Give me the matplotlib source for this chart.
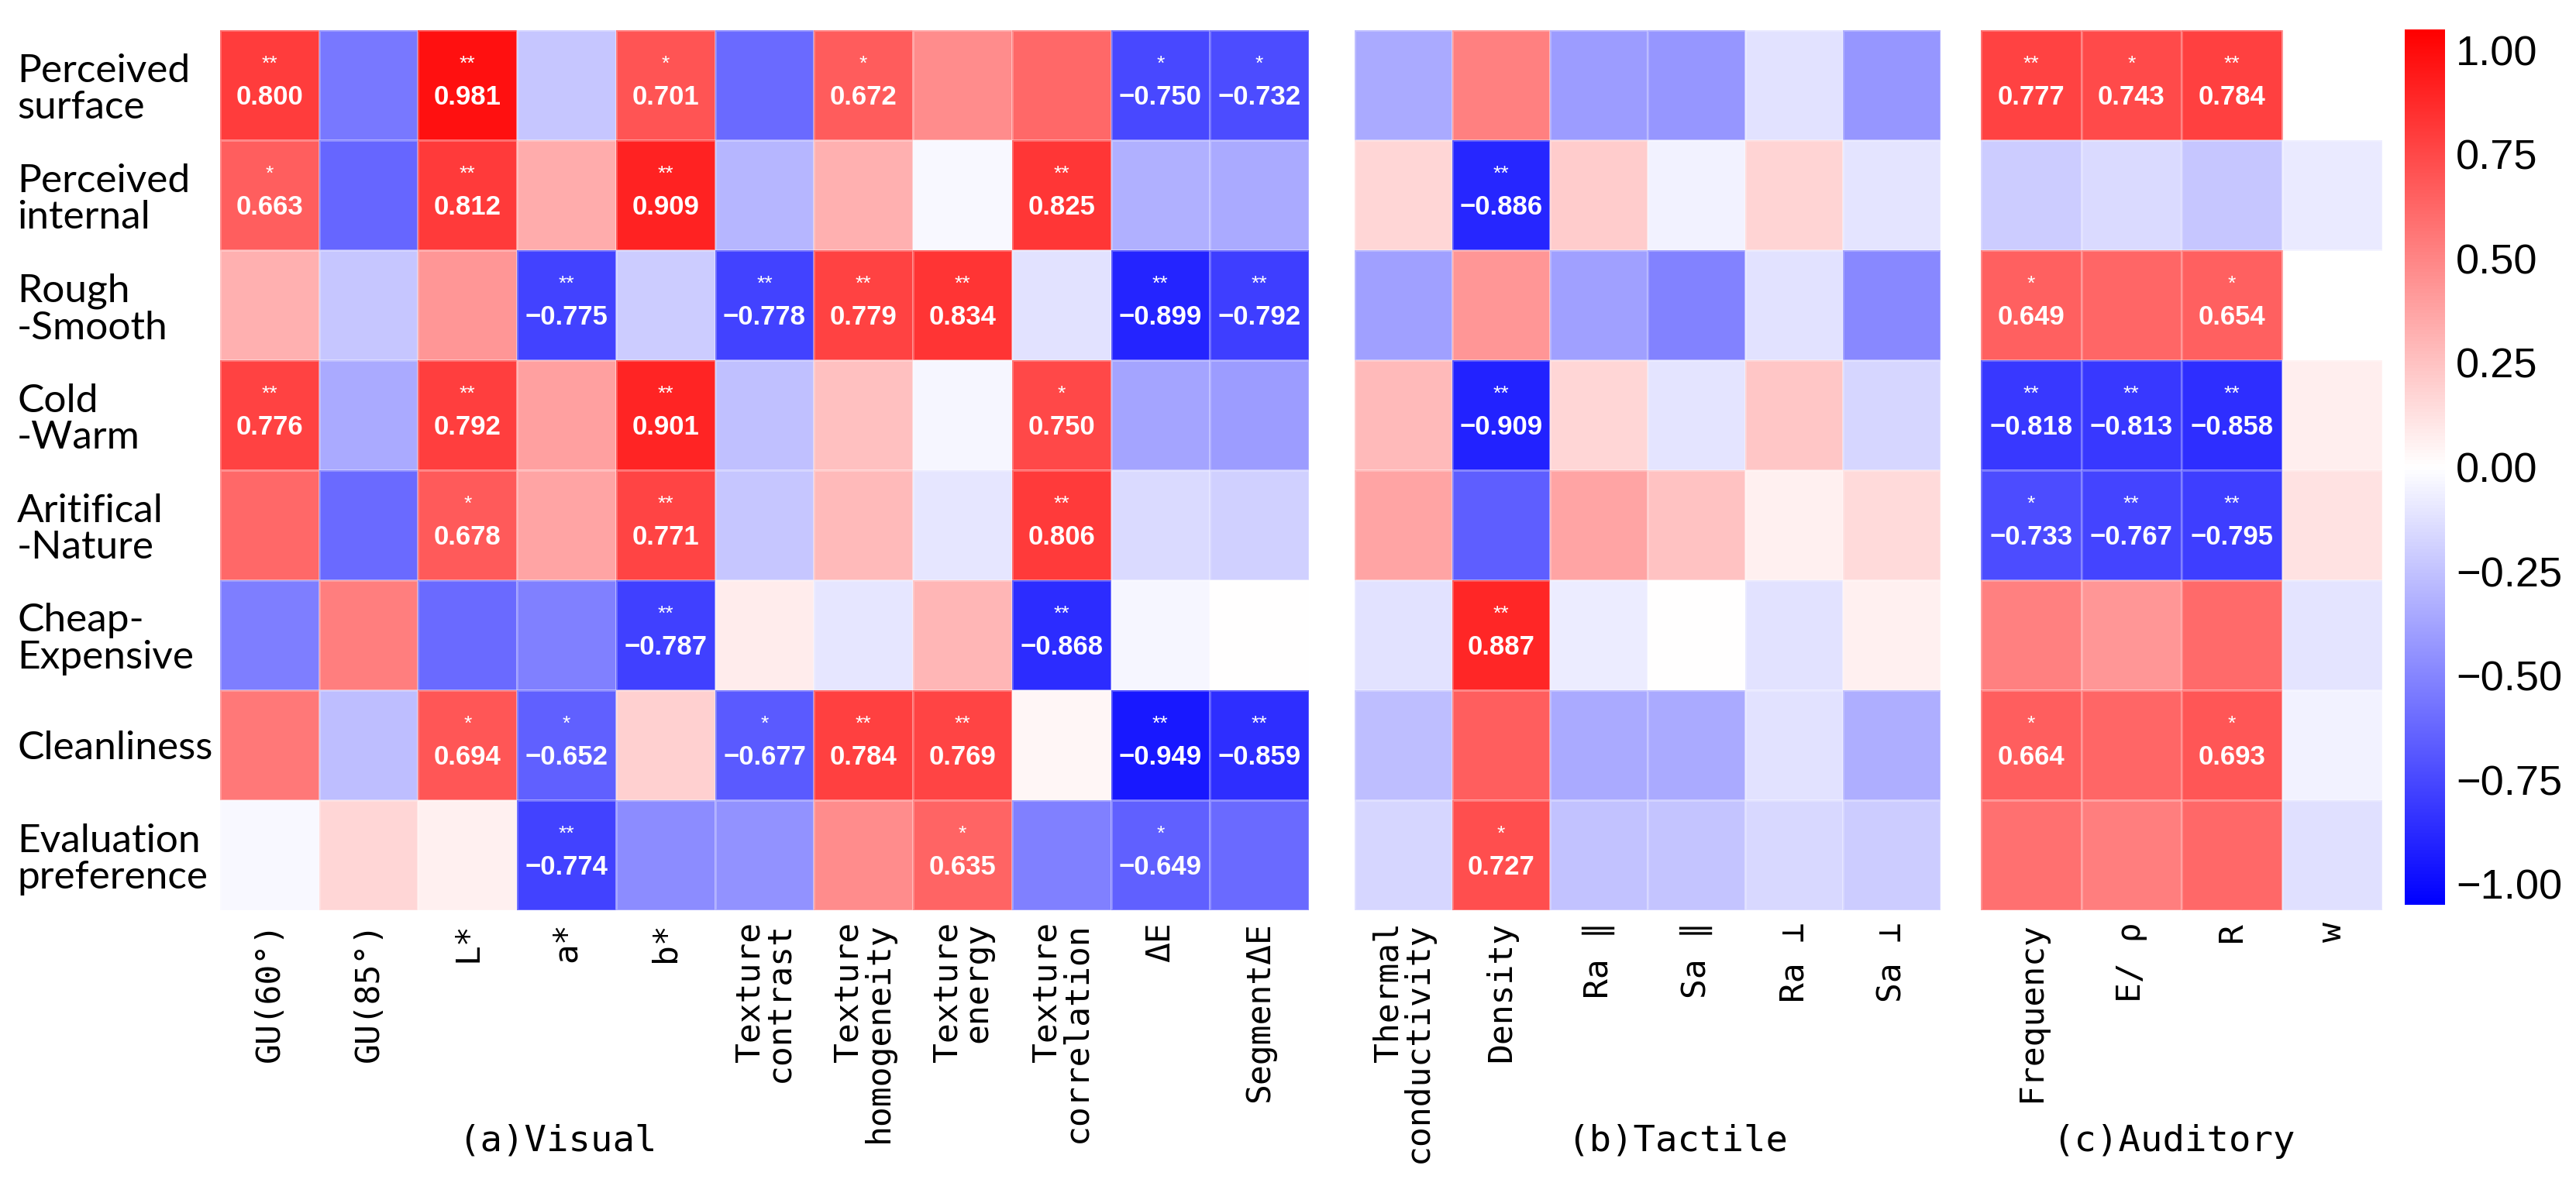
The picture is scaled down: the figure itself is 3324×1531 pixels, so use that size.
import matplotlib
matplotlib.use("Agg")
import matplotlib.pyplot as plt
import numpy as np
from matplotlib.colors import Normalize

# Row labels (perceptual attributes)
rows = ['Perceived\nsurface', 'Perceived\ninternal', 'Rough\n-Smooth', 'Cold\n-Warm',
        'Aritifical\n-Nature', 'Cheap-\nExpensive', 'Cleanliness', 'Evaluation\npreference']

# (a) Visual
visual_cols = ['GU(60°)', 'GU(85°)', 'L*', 'a*', 'b*', 'Texture\ncontrast', 'Texture\nhomogeneity',
               'Texture\nenergy', 'Texture\ncorrelation', 'ΔE', 'SegmentΔE']
visual_vals = [
    [0.800, -0.55, 0.981, -0.23, 0.701, -0.61, 0.672, 0.47, 0.62, -0.750, -0.732],
    [0.663, -0.63, 0.812, 0.34, 0.909, -0.30, 0.32, -0.03, 0.825, -0.32, -0.35],
    [0.32, -0.23, 0.43, -0.775, -0.21, -0.778, 0.779, 0.834, -0.12, -0.899, -0.792],
    [0.776, -0.35, 0.792, 0.39, 0.901, -0.26, 0.26, -0.04, 0.750, -0.37, -0.41],
    [0.62, -0.61, 0.678, 0.37, 0.771, -0.23, 0.28, -0.10, 0.806, -0.15, -0.19],
    [-0.53, 0.53, -0.61, -0.52, -0.787, 0.08, -0.10, 0.30, -0.868, -0.04, 0.00],
    [0.55, -0.27, 0.694, -0.652, 0.19, -0.677, 0.784, 0.769, 0.04, -0.949, -0.859],
    [-0.03, 0.17, 0.06, -0.774, -0.47, -0.45, 0.47, 0.635, -0.52, -0.649, -0.61],
]
visual_sig = [
    ['**', '', '**', '', '*', '', '*', '', '', '*', '*'],
    ['*', '', '**', '', '**', '', '', '', '**', '', ''],
    ['', '', '', '**', '', '**', '**', '**', '', '**', '**'],
    ['**', '', '**', '', '**', '', '', '', '*', '', ''],
    ['', '', '*', '', '**', '', '', '', '**', '', ''],
    ['', '', '', '', '**', '', '', '', '**', '', ''],
    ['', '', '*', '*', '', '*', '**', '**', '', '**', '**'],
    ['', '', '', '**', '', '', '', '*', '', '*', ''],
]

# (b) Tactile
tactile_cols = ['Thermal\nconductivity', 'Density', 'Ra ∥', 'Sa ∥', 'Ra ⊥', 'Sa ⊥']
tactile_vals = [
    [-0.35, 0.52, -0.41, -0.43, -0.12, -0.43],
    [0.17, -0.886, 0.21, -0.05, 0.18, -0.11],
    [-0.39, 0.43, -0.39, -0.51, -0.12, -0.49],
    [0.28, -0.909, 0.17, -0.11, 0.23, -0.17],
    [0.37, -0.66, 0.37, 0.25, 0.06, 0.15],
    [-0.12, 0.887, -0.08, 0.00, -0.12, 0.06],
    [-0.27, 0.66, -0.35, -0.35, -0.12, -0.33],
    [-0.17, 0.727, -0.25, -0.24, -0.16, -0.21],
]
tactile_sig = [
    ['', '', '', '', '', ''],
    ['', '**', '', '', '', ''],
    ['', '', '', '', '', ''],
    ['', '**', '', '', '', ''],
    ['', '', '', '', '', ''],
    ['', '**', '', '', '', ''],
    ['', '', '', '', '', ''],
    ['', '*', '', '', '', ''],
]

# (c) Auditory
auditory_cols = ['Frequency', 'E/ ρ', 'R', 'w']
auditory_vals = [
    [0.777, 0.743, 0.784, np.nan],
    [-0.21, -0.15, -0.23, -0.09],
    [0.649, 0.63, 0.654, np.nan],
    [-0.818, -0.813, -0.858, 0.07],
    [-0.733, -0.767, -0.795, 0.12],
    [0.52, 0.43, 0.61, -0.11],
    [0.664, 0.63, 0.693, -0.05],
    [0.59, 0.53, 0.62, -0.13],
]
auditory_sig = [
    ['**', '*', '**', ''],
    ['', '', '', ''],
    ['*', '', '*', ''],
    ['**', '**', '**', ''],
    ['*', '**', '**', ''],
    ['', '', '', ''],
    ['*', '', '*', ''],
    ['', '', '', ''],
]

cbar_ticks = [1.0, 0.75, 0.5, 0.25, 0.0, -0.25, -0.5, -0.75, -1.0]

MONO = ['DejaVu Sans Mono', 'DejaVu Sans']
norm = Normalize(vmin=-1.05, vmax=1.05)

W, H = 3324, 1531
fig = plt.figure(figsize=(W / 100, H / 100), dpi=100)

top, bottom = 39, 1175
ax_b = 1 - bottom / H
ax_h = (bottom - top) / H


def panel(x0, x1, vals, sig, cols):
    ax = fig.add_axes([x0 / W, ax_b, (x1 - x0) / W, ax_h])
    data = np.ma.masked_invalid(np.array(vals, dtype=float))
    mesh = ax.pcolormesh(data, cmap='bwr', norm=norm,
                         edgecolors=(1, 1, 1, 0.25), linewidth=1)
    nr, nc = data.shape
    ax.set_xlim(0, nc)
    ax.set_ylim(nr, 0)
    for i in range(nr):
        for j in range(nc):
            if sig[i][j]:
                ax.text(j + 0.5, i + 0.31, sig[i][j], ha='center', va='center',
                        color='white', fontsize=19, family='Liberation Sans')
                txt = f'{vals[i][j]:.3f}'.replace('-', '\u2212')
                ax.text(j + 0.5, i + 0.61, txt, ha='center', va='center',
                        color='white', fontsize=25, fontweight='bold',
                        family='Liberation Sans')
    ax.set_xticks(np.arange(nc) + 0.5)
    ax.set_xticklabels(cols, rotation=90, family=MONO, fontsize=31,
                       multialignment='right', linespacing=0.9)
    ax.set_yticks([])
    ax.tick_params(length=0, pad=11)
    for s in ax.spines.values():
        s.set_visible(False)
    return ax, mesh


ax_v, mesh = panel(284, 1689, visual_vals, visual_sig, visual_cols)
ax_t, _ = panel(1748, 2504, tactile_vals, tactile_sig, tactile_cols)
ax_a, _ = panel(2556, 3074, auditory_vals, auditory_sig, auditory_cols)

# row labels, left aligned at the figure edge
ax_v.set_yticks(np.arange(len(rows)) + 0.5)
ax_v.set_yticklabels(rows, ha='left', family='Lato', fontsize=37, linespacing=1.05)
ax_v.tick_params(axis='y', length=0, pad=(284 - 22) * 0.72)

# colorbar
cax = fig.add_axes([3103 / W, 1 - 1168 / H, 52 / W, 1130 / H])
cb = fig.colorbar(mesh, cax=cax, ticks=cbar_ticks)
cb.ax.set_yticklabels([f'{t:.2f}'.replace('-', '\u2212') for t in cbar_ticks],
                      family='Liberation Sans', fontsize=39)
cb.ax.tick_params(length=0, pad=10)
cb.outline.set_visible(False)

# panel titles
fig.text(719 / W, 1 - 1473 / H, '(a)Visual', ha='center', va='center', family=MONO, fontsize=34)
fig.text(2165 / W, 1 - 1473 / H, '(b)Tactile', ha='center', va='center', family=MONO, fontsize=34)
fig.text(2805 / W, 1 - 1473 / H, '(c)Auditory', ha='center', va='center', family=MONO, fontsize=34)

fig.savefig('out.png', dpi=100, facecolor='white')
